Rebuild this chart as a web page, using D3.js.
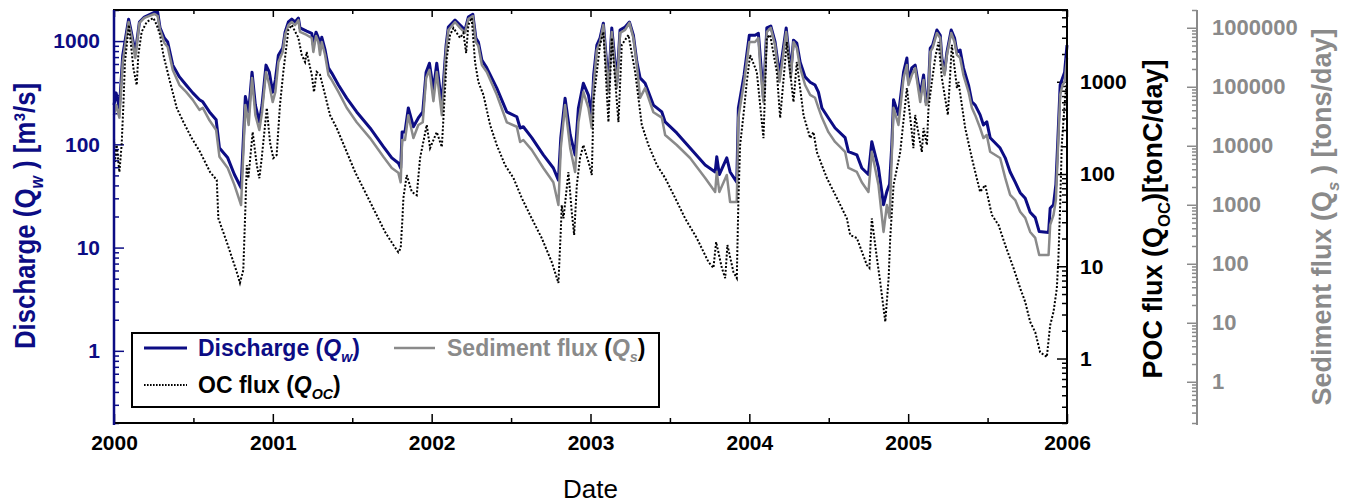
<!DOCTYPE html>
<html>
<head>
<meta charset="utf-8">
<script src="https://cdn.jsdelivr.net/npm/d3@7"></script>
<style>
body { margin: 0; background: #fff; }
text { font-family: "Liberation Sans", Arial, sans-serif; }
</style>
</head>
<body>
<div id="chart"></div>
<script>
// Daily discharge / sediment / POC record (decimal years)
var tFlow = [
  2000.000, 2000.013, 2000.034, 2000.055, 2000.092, 2000.109, 2000.134, 2000.160, 2000.191, 2000.254, 2000.275, 2000.290,
  2000.317, 2000.338, 2000.370, 2000.412, 2000.454, 2000.496, 2000.538, 2000.559, 2000.601, 2000.643, 2000.664, 2000.716,
  2000.758, 2000.800, 2000.827, 2000.848, 2000.869, 2000.890, 2000.915, 2000.932, 2000.957, 2000.978, 2000.999, 2001.016,
  2001.035, 2001.062, 2001.077, 2001.098, 2001.119, 2001.140, 2001.161, 2001.171, 2001.213, 2001.245, 2001.255, 2001.272,
  2001.287, 2001.297, 2001.308, 2001.329, 2001.350, 2001.371, 2001.413, 2001.465, 2001.528, 2001.612, 2001.696, 2001.749,
  2001.790, 2001.805, 2001.814, 2001.832, 2001.853, 2001.885, 2001.916, 2001.944, 2001.965, 2001.986,
  2002.011, 2002.032, 2002.064, 2002.091, 2002.105, 2002.147, 2002.179, 2002.210, 2002.231, 2002.259, 2002.278, 2002.294,
  2002.316, 2002.347, 2002.410, 2002.473, 2002.536, 2002.557, 2002.577, 2002.630, 2002.703, 2002.766, 2002.798, 2002.813,
  2002.840, 2002.872, 2002.903, 2002.924, 2002.955, 2002.987,
  2003.008, 2003.020, 2003.040, 2003.060, 2003.081, 2003.113, 2003.134, 2003.166, 2003.186, 2003.218, 2003.245, 2003.270,
  2003.292, 2003.312, 2003.344, 2003.396, 2003.449, 2003.470, 2003.543, 2003.627, 2003.722, 2003.785, 2003.795, 2003.811,
  2003.858, 2003.879, 2003.921, 2003.931, 2003.967,
  2004.000, 2004.036, 2004.057, 2004.068, 2004.089, 2004.110, 2004.135, 2004.162, 2004.190, 2004.232, 2004.261, 2004.278,
  2004.299, 2004.320, 2004.351, 2004.383, 2004.414, 2004.435, 2004.457, 2004.498, 2004.540, 2004.603, 2004.624, 2004.677,
  2004.708, 2004.750, 2004.771, 2004.813, 2004.845, 2004.866, 2004.883, 2004.897, 2004.908, 2004.939, 2004.971, 2004.992,
  2005.002, 2005.023, 2005.044, 2005.076, 2005.097, 2005.112, 2005.125, 2005.139, 2005.154, 2005.181, 2005.202, 2005.212,
  2005.229, 2005.244, 2005.271, 2005.292, 2005.307, 2005.327, 2005.348, 2005.380, 2005.401, 2005.422, 2005.453, 2005.474,
  2005.495, 2005.516, 2005.579, 2005.611, 2005.642, 2005.674, 2005.705, 2005.737, 2005.768, 2005.800, 2005.825, 2005.884,
  2005.894, 2005.915, 2005.930, 2005.943, 2005.957, 2005.972, 2005.985, 2006.000
];

// Discharge Qw [m3/s]
var qw = [
  240, 315, 225, 730, 1630, 1220, 765, 1530, 1710, 1900, 1900, 1340,
  1070, 980, 585, 450, 375, 315, 270, 258, 206, 173, 92, 74,
  51, 38, 290, 206, 500, 240, 165, 240, 585, 500, 320, 420,
  730, 855, 1220, 1530, 1630, 1530, 1670, 1340, 1250, 1190, 915, 1220,
  1070, 855, 1090, 820, 550, 490, 375, 280, 206, 144, 95, 74,
  66, 59, 132, 132, 225, 148, 180, 206, 500, 610,
  336, 610, 240, 915, 1370, 1600, 1430, 1280, 1710, 1820, 1070, 980,
  655, 550, 350, 206, 185, 144, 148, 116, 79, 59, 45, 116,
  280, 124, 79, 225, 390, 300,
  193, 470, 915, 1070, 1490, 375, 1340, 400, 1280, 1370, 1530, 1140,
  625, 440, 390, 240, 206, 165, 129, 92, 63, 54, 76, 51,
  74, 54, 43, 225, 470,
  1140, 1140, 1190, 730, 280, 1340, 1400, 980, 470, 1340, 500, 1020,
  955, 625, 450, 400, 375, 320, 225, 180, 144, 116, 85, 79,
  59, 51, 106, 59, 26, 35, 41, 99, 270, 193, 500, 685,
  400, 550, 585, 300, 470, 258, 280, 855, 915, 1280, 1140, 685,
  500, 780, 1280, 1070, 780, 820, 550, 375, 258, 240, 193, 154,
  165, 116, 92, 74, 54, 43, 34, 30, 22, 19.5, 14.3, 14,
  24, 26, 41, 116, 375, 440, 500, 915
];

// Sediment flux Qs [tons/day]
var qs = [
  33000, 49000, 30000, 263000, 1250000, 755000, 308000, 1210000, 1470000, 1710000, 1580000, 918000,
  552000, 473000, 193000, 107000, 82000, 60000, 40500, 44000, 27000, 18500, 6500, 4200,
  2170, 990, 49000, 22500, 141000, 33000, 18500, 37000, 178000, 107000, 55000, 82000,
  263000, 389000, 755000, 1110000, 1250000, 1110000, 1350000, 849000, 755000, 671000, 389000, 726000,
  574000, 346000, 574000, 346000, 158000, 130000, 82000, 44000, 25000, 13500, 6500, 4200,
  3500, 2400, 12500, 12500, 33000, 13500, 22500, 25000, 141000, 193000,
  57000, 178000, 33000, 421000, 918000, 1250000, 993000, 817000, 1410000, 1580000, 574000, 492000,
  234000, 178000, 73000, 25000, 21000, 11600, 12500, 8500, 4200, 2400, 990, 9200,
  49000, 9200, 3600, 25000, 82000, 44000,
  20000, 107000, 421000, 574000, 1110000, 82000, 849000, 95000, 817000, 918000, 1210000, 671000,
  234000, 65000, 95000, 37000, 30000, 15200, 10300, 6200, 2850, 1650, 3600, 1650,
  3200, 1110, 1110, 30000, 121000,
  574000, 574000, 671000, 234000, 55000, 849000, 993000, 511000, 121000, 849000, 141000, 574000,
  455000, 208000, 107000, 73000, 65000, 44000, 30000, 17000, 11600, 7900, 4200, 3600,
  2400, 1650, 7900, 2170, 346, 990, 600, 7000, 44000, 22500, 141000, 234000,
  107000, 158000, 208000, 55000, 130000, 49000, 55000, 389000, 455000, 817000, 671000, 263000,
  158000, 346000, 817000, 574000, 346000, 308000, 158000, 82000, 44000, 33000, 20000, 13500,
  15200, 7900, 6200, 2850, 1470, 1200, 760, 600, 346, 274, 141, 141,
  455, 670, 1200, 9200, 73000, 107000, 121000, 308000
];

// POC flux Qoc [tonC/day]
var tOc = [
  2000.000, 2000.006, 2000.017, 2000.034, 2000.048, 2000.059, 2000.069, 2000.094, 2000.122, 2000.143, 2000.153, 2000.174,
  2000.206, 2000.248, 2000.269, 2000.290, 2000.311, 2000.353, 2000.395, 2000.437, 2000.489, 2000.542, 2000.605, 2000.647,
  2000.657, 2000.710, 2000.773, 2000.793, 2000.814, 2000.825, 2000.836, 2000.846, 2000.873, 2000.899, 2000.915, 2000.930,
  2000.962, 2000.982,
  2001.003, 2001.024, 2001.045, 2001.066, 2001.098, 2001.119, 2001.161, 2001.182, 2001.203, 2001.213, 2001.245, 2001.259,
  2001.276, 2001.297, 2001.329, 2001.360, 2001.402, 2001.455, 2001.518, 2001.581, 2001.644, 2001.707, 2001.759, 2001.790,
  2001.805, 2001.816, 2001.822, 2001.843, 2001.875, 2001.906, 2001.927, 2001.969, 2001.990,
  2002.032, 2002.064, 2002.095, 2002.116, 2002.137, 2002.179, 2002.200, 2002.217, 2002.231, 2002.252, 2002.273, 2002.294,
  2002.326, 2002.368, 2002.410, 2002.462, 2002.515, 2002.567, 2002.630, 2002.693, 2002.756, 2002.798, 2002.813, 2002.819,
  2002.830, 2002.861, 2002.882, 2002.897, 2002.914, 2002.934, 2002.955, 2002.993,
  2003.008, 2003.020, 2003.040, 2003.060, 2003.081, 2003.113, 2003.134, 2003.176, 2003.197, 2003.239, 2003.281, 2003.323,
  2003.365, 2003.418, 2003.470, 2003.533, 2003.596, 2003.669, 2003.743, 2003.774, 2003.791, 2003.827, 2003.848, 2003.862,
  2003.900, 2003.921, 2003.931, 2003.942, 2003.963, 2003.984,
  2004.005, 2004.047, 2004.068, 2004.089, 2004.110, 2004.131, 2004.173, 2004.194, 2004.236, 2004.278, 2004.299, 2004.341,
  2004.383, 2004.404, 2004.425, 2004.488, 2004.551, 2004.614, 2004.635, 2004.677, 2004.740, 2004.756, 2004.771, 2004.803,
  2004.824, 2004.856, 2004.877, 2004.887, 2004.908, 2004.950, 2004.992,
  2005.023, 2005.033, 2005.044, 2005.086, 2005.097, 2005.118, 2005.128, 2005.149, 2005.170, 2005.191, 2005.212, 2005.250,
  2005.275, 2005.307, 2005.317, 2005.359, 2005.401, 2005.453, 2005.485, 2005.527, 2005.569, 2005.611, 2005.663, 2005.705,
  2005.737, 2005.768, 2005.800, 2005.831, 2005.873, 2005.894, 2005.915, 2005.936, 2005.946, 2005.957, 2005.967, 2005.988,
  2006.000
];

var qoc = [
  245, 135, 206, 105, 206, 560, 1640, 4130, 1410, 920, 1950, 3470,
  4450, 4920, 4130, 3220, 1950, 995, 520, 366, 245, 173, 105, 86,
  33, 18.3, 8.65, 6.6, 9.1, 33, 125, 90, 285, 125, 90, 149,
  520, 222,
  149, 161, 560, 1280, 3650, 4130, 2990, 1950, 1640, 2100, 1190, 775,
  1280, 1190, 720, 436, 315, 191, 105, 64, 38.7, 23.5, 17, 14.2,
  15.7, 33, 55, 97.5, 64, 59, 149, 340, 191,
  285, 196, 1810, 3220, 3830, 2990, 3380, 2050, 4130, 4920, 1640, 995,
  720, 340, 206, 125, 90.5, 55, 33, 20.2, 11.1, 6.6, 24.7, 46,
  33, 105, 38.7, 21.8, 76, 149, 206, 125,
  97.5, 635, 1280, 2510, 3470, 366, 2990, 366, 2510, 3220, 1280, 340,
  206, 125, 90.5, 55, 33, 20.2, 11.1, 9.6, 18.3, 9.6, 7.45, 17,
  8.65, 7.45, 50, 206, 436, 995,
  1950, 1280, 560, 245, 2990, 3220, 1280, 405, 2700, 604, 1640, 436,
  245, 285, 173, 90.5, 55, 33, 21.8, 20.2, 10.3, 9.6, 33, 12.3,
  6.75, 2.5, 7.45, 20.2, 76, 173, 855,
  285, 191, 436, 173, 315, 206, 520, 995, 1810, 2700, 1100, 436,
  2510, 855, 995, 315, 149, 64, 76, 36, 28, 17, 9.6, 5.8,
  4.1, 2.5, 1.93, 1.17, 1.04, 2.3, 3.2, 5.8, 12.3, 46, 206, 667,
  995
];

// tick labels
var yearTicks = [2000, 2001, 2002, 2003, 2004, 2005, 2006];
var halfYearTicks = [2000.5, 2001.5, 2002.5, 2003.5, 2004.5, 2005.5];
var qwTicks = [1, 10, 100, 1000];
var ocTicks = [1, 10, 100, 1000];
var qsTicks = [1, 10, 100, 1000, 10000, 100000, 1000000];

var blue = "#0c0c84";
var grey = "#8a8a8a";
var fontFam = "'Liberation Sans', Arial, sans-serif";

// Set SVG wrapper dimensions
var svgWidth = 1353;
var svgHeight = 504;

var margin = {
    top: 10,
    right: 286,
    bottom: 81,
    left: 114
};

var height = svgHeight - margin.top - margin.bottom;
var width = svgWidth - margin.left - margin.right;

var svg = d3.select("#chart")
    .append("svg")
    .attr("width", svgWidth)
    .attr("height", svgHeight);

var chartGroup = svg.append("g")
    .attr("transform", `translate(${margin.left}, ${margin.top})`);

// scales
var xScale = d3.scaleLinear().domain([2000, 2006]).range([0, width]);
var yQw = d3.scaleLog().domain([0.2, 2000]).range([height, 0]);
var yOc = d3.scaleLog().domain([0.2, 6000]).range([height, 0]);
var yQs = d3.scaleLog().domain([0.2, 2000000]).range([height, 0]);

function minorTicks(scale, majors) {
    return scale.ticks().filter(d => majors.indexOf(d) < 0);
}

function styleAxis(g, color, size, weight) {
    g.attr("color", color)
        .attr("font-size", size)
        .attr("font-family", fontFam)
        .attr("font-weight", weight);
    g.select(".domain").remove();
    g.selectAll("line").attr("stroke-width", 1.5);
}

// x axis: ticks inside, bottom and top
chartGroup.append("g")
    .attr("transform", `translate(0, ${height})`)
    .call(d3.axisTop(xScale).tickValues(yearTicks).tickSize(9).tickFormat(""))
    .call(g => styleAxis(g, "#000", 21, "bold"));
chartGroup.append("g")
    .attr("transform", `translate(0, ${height})`)
    .call(d3.axisTop(xScale).tickValues(halfYearTicks).tickSize(5).tickFormat(""))
    .call(g => styleAxis(g, "#000", 21, "bold"));
chartGroup.append("g")
    .attr("transform", `translate(0, ${height})`)
    .call(d3.axisBottom(xScale).tickValues(yearTicks).tickSize(0).tickPadding(12).tickFormat(d3.format("d")))
    .call(g => styleAxis(g, "#000", 21, "bold"));
chartGroup.append("g")
    .call(d3.axisBottom(xScale).tickValues(yearTicks).tickSize(7).tickFormat(""))
    .call(g => styleAxis(g, "#000", 21, "bold"));
chartGroup.append("g")
    .call(d3.axisBottom(xScale).tickValues(halfYearTicks).tickSize(4).tickFormat(""))
    .call(g => styleAxis(g, "#000", 21, "bold"));

// left axis (discharge)
chartGroup.append("g")
    .call(d3.axisRight(yQw).tickValues(qwTicks).tickSize(10).tickFormat(""))
    .call(g => styleAxis(g, blue, 21, "bold"));
chartGroup.append("g")
    .call(d3.axisRight(yQw).tickValues(minorTicks(yQw, qwTicks)).tickSize(5).tickFormat(""))
    .call(g => styleAxis(g, blue, 21, "bold"));
chartGroup.append("g")
    .call(d3.axisLeft(yQw).tickValues(qwTicks).tickSize(0).tickPadding(14).tickFormat(d => d))
    .call(g => styleAxis(g, blue, 21, "bold"));

// right axis (POC flux)
chartGroup.append("g")
    .attr("transform", `translate(${width}, 0)`)
    .call(d3.axisLeft(yOc).tickValues(ocTicks).tickSize(10).tickFormat(""))
    .call(g => styleAxis(g, "#000", 21, "bold"));
chartGroup.append("g")
    .attr("transform", `translate(${width}, 0)`)
    .call(d3.axisLeft(yOc).tickValues(minorTicks(yOc, ocTicks)).tickSize(5).tickFormat(""))
    .call(g => styleAxis(g, "#000", 21, "bold"));
chartGroup.append("g")
    .attr("transform", `translate(${width}, 0)`)
    .call(d3.axisRight(yOc).tickValues(ocTicks).tickSize(0).tickPadding(13).tickFormat(d => d))
    .call(g => styleAxis(g, "#000", 21, "bold"));

// offset axis (sediment flux)
var qsX = width + 130;
chartGroup.append("line")
    .attr("x1", qsX).attr("x2", qsX)
    .attr("y1", 0).attr("y2", height + 2)
    .attr("stroke", grey)
    .attr("stroke-width", 2);
chartGroup.append("g")
    .attr("transform", `translate(${qsX}, 0)`)
    .call(d3.axisLeft(yQs).tickValues(qsTicks).tickSize(10).tickFormat(""))
    .call(g => styleAxis(g, grey, 22, "bold"));
chartGroup.append("g")
    .attr("transform", `translate(${qsX}, 0)`)
    .call(d3.axisLeft(yQs).tickValues(minorTicks(yQs, qsTicks)).tickSize(5).tickFormat(""))
    .call(g => styleAxis(g, grey, 22, "bold"));
chartGroup.append("g")
    .attr("transform", `translate(${qsX}, 0)`)
    .call(d3.axisRight(yQs).tickValues(qsTicks).tickSize(0).tickPadding(15).tickFormat(d => d))
    .call(g => styleAxis(g, grey, 22, "bold"));

// lines
var qwLine = d3.line()
    .x((d, i) => xScale(tFlow[i]))
    .y(d => yQw(d));
var qsLine = d3.line()
    .x((d, i) => xScale(tFlow[i]))
    .y(d => yQs(d));
var ocLine = d3.line()
    .x((d, i) => xScale(tOc[i]))
    .y(d => yOc(d));

chartGroup.append("path")
    .attr("d", qwLine(qw))
    .attr("fill", "none")
    .attr("stroke", blue)
    .attr("stroke-width", 3)
    .attr("stroke-linejoin", "round");

chartGroup.append("path")
    .attr("d", qsLine(qs))
    .attr("fill", "none")
    .attr("stroke", grey)
    .attr("stroke-width", 2.5)
    .attr("stroke-linejoin", "round");

chartGroup.append("path")
    .attr("d", ocLine(qoc))
    .attr("fill", "none")
    .attr("stroke", "#000")
    .attr("stroke-width", 2)
    .attr("stroke-dasharray", "2,1.8");

// frame
chartGroup.append("rect")
    .attr("width", width)
    .attr("height", height)
    .attr("fill", "none")
    .attr("stroke", "#000")
    .attr("stroke-width", 2);
chartGroup.append("line")
    .attr("x1", 0).attr("x2", 0)
    .attr("y1", 0).attr("y2", height + 2)
    .attr("stroke", blue)
    .attr("stroke-width", 2.5);

// legend
var legend = svg.append("g");
legend.append("rect")
    .attr("x", 132).attr("y", 333)
    .attr("width", 527).attr("height", 74)
    .attr("fill", "#fff")
    .attr("stroke", "#000")
    .attr("stroke-width", 2);

legend.append("line")
    .attr("x1", 144).attr("x2", 187).attr("y1", 348).attr("y2", 348)
    .attr("stroke", blue).attr("stroke-width", 3);
legend.append("line")
    .attr("x1", 394).attr("x2", 435).attr("y1", 348).attr("y2", 348)
    .attr("stroke", grey).attr("stroke-width", 2.5);
legend.append("line")
    .attr("x1", 144).attr("x2", 187).attr("y1", 385).attr("y2", 385)
    .attr("stroke", "#000").attr("stroke-width", 1.8)
    .attr("stroke-dasharray", "1.6,1.4");

function subLabel(g, x, y, parts, size) {
    var t = g.append("text")
        .attr("x", x).attr("y", y)
        .attr("font-size", size)
        .attr("font-weight", "bold")
        .attr("font-family", fontFam);
    parts.forEach(function(p) {
        var s = t.append("tspan").text(p.text).attr("fill", p.color);
        if (p.italic) s.attr("font-style", "italic");
        if (p.sub) s.attr("font-size", size * 0.62).attr("dy", size * 0.28);
        if (p.up) s.attr("dy", -size * 0.28);
    });
    return t;
}

subLabel(legend, 198, 356, [
    {text: "Discharge (", color: blue},
    {text: "Q", color: blue, italic: true},
    {text: "w", color: blue, italic: true, sub: true},
    {text: ")", color: blue, up: true}
], 23);
subLabel(legend, 447, 356, [
    {text: "Sediment flux ", color: grey},
    {text: "(", color: "#000"},
    {text: "Q", color: grey, italic: true},
    {text: "s", color: grey, italic: true, sub: true},
    {text: ")", color: "#000", up: true}
], 23);
subLabel(legend, 198, 393, [
    {text: "OC flux (", color: "#000"},
    {text: "Q", color: "#000", italic: true},
    {text: "OC", color: "#000", italic: true, sub: true},
    {text: ")", color: "#000", up: true}
], 23);

// axis titles
subLabel(svg, 0, 0, [
    {text: "Discharge (Q", color: blue},
    {text: "w", color: blue, italic: true, sub: true},
    {text: " ) [m³/s]", color: blue, up: true}
], 29)
    .attr("text-anchor", "middle")
    .attr("transform", "translate(35, 216) rotate(-90) scale(0.89, 1)");

subLabel(svg, 0, 0, [
    {text: "POC flux (Q", color: "#000"},
    {text: "OC", color: "#000", sub: true},
    {text: ")[tonC/day]", color: "#000", up: true}
], 27)
    .attr("text-anchor", "middle")
    .attr("transform", "translate(1162, 219) rotate(-90)");

subLabel(svg, 0, 0, [
    {text: "Sediment flux (Q", color: grey},
    {text: "s", color: grey, italic: true, sub: true},
    {text: " ) [tons/day]", color: grey, up: true}
], 27)
    .attr("text-anchor", "middle")
    .attr("transform", "translate(1331, 217) rotate(-90)");

svg.append("text")
    .attr("x", margin.left + width / 2)
    .attr("y", 498)
    .attr("text-anchor", "middle")
    .attr("font-size", 26)
    .attr("font-family", fontFam)
    .text("Date");
</script>
</body>
</html>
